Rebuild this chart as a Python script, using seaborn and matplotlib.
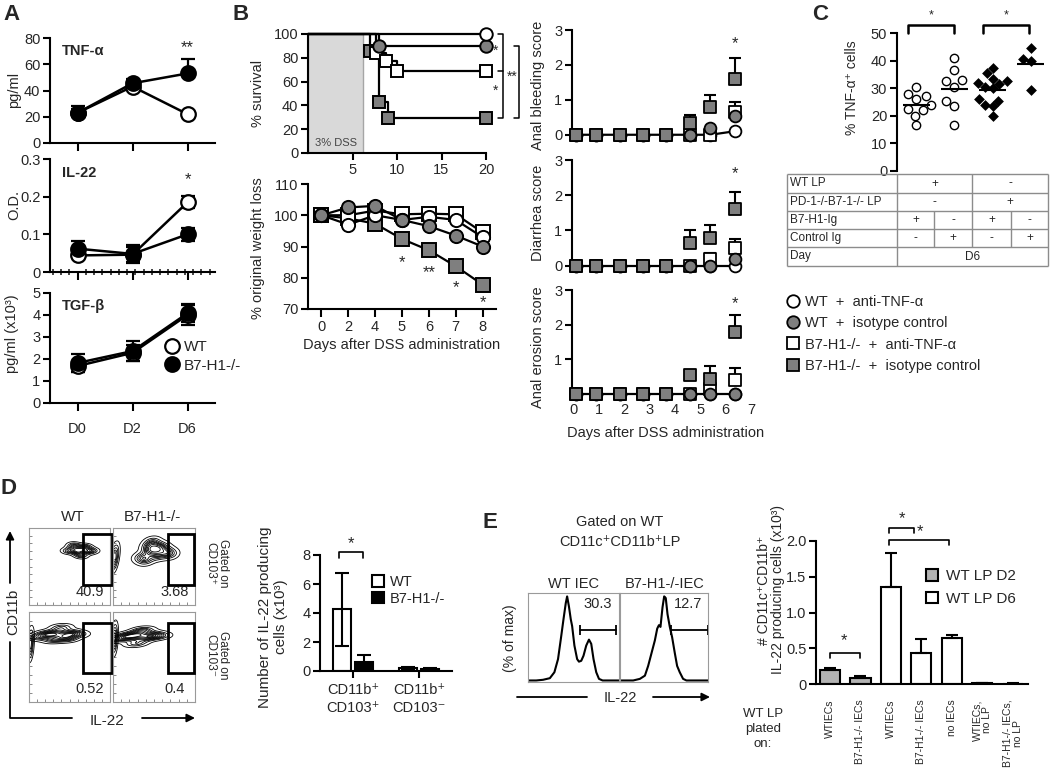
import matplotlib
matplotlib.use("Agg")
import matplotlib.pyplot as plt
import numpy as np
import pandas as pd
import seaborn as sns
from matplotlib.lines import Line2D
from matplotlib.patches import Patch, Rectangle
from matplotlib.ticker import MultipleLocator

W, H = 1050, 773
GRAY = "#7f7f7f"
BAR_GRAY = "#b3b3b3"

# ---- A: serum cytokines ----
a_days = ["D0", "D2", "D6"]
tnf_wt = [23, 43, 22]
tnf_wt_err = [3, 2, 2]
tnf_ko = [23, 45.5, 53]
tnf_ko_err = [5.5, 3, 11]
il22_wt = [0.044, 0.046, 0.185]
il22_wt_err = [0.006, 0.02, 0.016]
il22_ko = [0.062, 0.048, 0.100]
il22_ko_err = [0.019, 0.025, 0.018]
tgf_wt = [1.68, 2.28, 4.0]
tgf_wt_err = [0.25, 0.35, 0.45]
tgf_ko = [1.82, 2.36, 4.08]
tgf_ko_err = [0.4, 0.45, 0.42]

# ---- B: DSS colitis ----
b_groups = ["WT  +  anti-TNF-α", "WT  +  isotype control",
            "B7-H1-/-  +  anti-TNF-α", "B7-H1-/-  +  isotype control"]
dss_days = 6.2
surv_wt_anti_t = [0, 20]
surv_wt_anti = [100, 100]
surv_wt_iso_t = [0, 8, 20]
surv_wt_iso = [100, 90, 90]
surv_ko_anti_t = [0, 7.6, 8.8, 10, 20]
surv_ko_anti = [100, 84, 77, 69, 69]
surv_ko_iso_t = [0, 7, 8, 9, 20]
surv_ko_iso = [100, 86, 43, 29, 29]

wl_days = ["0", "2", "4", "5", "6", "7", "8"]
wl_wt_anti = [100, 97, 100, 98.5, 99.5, 98.5, 93]
wl_wt_iso = [100, 102.5, 103, 98.5, 96.5, 93.5, 90]
wl_ko_anti = [100, 100, 101.5, 100.3, 100.5, 100.3, 94.5]
wl_ko_iso = [100, 99, 97.3, 92.4, 88.8, 83.7, 77.8]
wl_sig = ["*", "**", "*", "*"]
wl_sig_pos = [3, 4, 5, 6]
wl_sig_y = [84.7, 81.5, 76.7, 72.1]

score_days = [0.1, 0.9, 1.85, 2.75, 3.65, 4.6, 5.4, 6.35]
bleed_wt_anti = [0, 0, 0, 0, 0, 0, 0, 0.1]
bleed_wt_iso = [0, 0, 0, 0, 0, 0, 0.2, 0.55]
bleed_ko_anti = [0, 0, 0, 0, 0, 0, 0, 0.65]
bleed_ko_iso = [0, 0, 0, 0, 0, 0.35, 0.8, 1.6]
bleed_wt_anti_err = [0, 0, 0, 0, 0, 0, 0, 0]
bleed_wt_iso_err = [0, 0, 0, 0, 0, 0, 0, 0.25]
bleed_ko_anti_err = [0, 0, 0, 0, 0, 0, 0, 0.3]
bleed_ko_iso_err = [0, 0, 0, 0, 0, 0.22, 0.35, 0.6]
diar_wt_anti = [0, 0, 0, 0, 0, 0, 0, 0]
diar_wt_iso = [0, 0, 0, 0, 0, 0, 0, 0.2]
diar_ko_anti = [0, 0, 0, 0, 0, 0, 0.2, 0.5]
diar_ko_iso = [0, 0, 0, 0, 0, 0.65, 0.8, 1.6]
diar_wt_anti_err = [0, 0, 0, 0, 0, 0, 0, 0]
diar_wt_iso_err = [0, 0, 0, 0, 0, 0, 0, 0]
diar_ko_anti_err = [0, 0, 0, 0, 0, 0, 0.15, 0.25]
diar_ko_iso_err = [0, 0, 0, 0, 0, 0.35, 0.35, 0.5]
eros_wt_anti = [0, 0, 0, 0, 0, 0, 0, 0]
eros_wt_iso = [0, 0, 0, 0, 0, 0, 0, 0]
eros_ko_anti = [0, 0, 0, 0, 0, 0, 0.15, 0.4]
eros_ko_iso = [0, 0, 0, 0, 0, 0.53, 0.42, 1.8]
eros_wt_anti_err = [0, 0, 0, 0, 0, 0, 0, 0]
eros_wt_iso_err = [0, 0, 0, 0, 0, 0, 0, 0]
eros_ko_anti_err = [0, 0, 0, 0, 0, 0, 0, 0.35]
eros_ko_iso_err = [0, 0, 0, 0, 0, 0.15, 0.38, 0.48]

# ---- C: % TNF-a+ cells ----
c_keys = ["WT/B7-H1-Ig", "WT/Control Ig", "KO/B7-H1-Ig", "KO/Control Ig"]
c_wt_b7h1 = [30.5, 28, 27, 26, 24, 22.5, 22, 20, 16.5]
c_wt_ctrl = [41, 36.5, 33, 32.5, 30.5, 25.5, 23.5, 16.5]
c_ko_b7h1 = [37.5, 35.5, 33.5, 32.5, 32, 31.5, 30.5, 30, 26, 25.5, 24, 23.5, 20]
c_ko_ctrl = [44.5, 40.5, 40, 29.5]
tbl_rows = ["WT LP", "PD-1-/-B7-1-/- LP", "B7-H1-Ig", "Control Ig", "Day"]
tbl_wt_lp = ["+", "-"]
tbl_pd1 = ["-", "+"]
tbl_b7h1 = ["+", "-", "+", "-"]
tbl_ctrl = ["-", "+", "-", "+"]
tbl_day = "D6"

# ---- D: IL-22 producing cells ----
flow_pct = ["40.9", "3.68", "0.52", "0.4"]
flow_main_x = [[48, 54, 60, 66, 72, 78, 56, 64, 70, 60],
               [34, 40, 46, 52, 58, 64, 70, 48, 55, 44],
               [12, 20, 28, 36, 44, 52, 60, 40, 48, 30],
               [8, 16, 24, 32, 40, 48, 56, 36, 28]]
flow_main_y = [[70, 74, 68, 73, 69, 71, 78, 64, 76, 71],
               [62, 58, 70, 72, 76, 70, 66, 82, 64, 76],
               [72, 76, 74, 78, 73, 77, 75, 83, 70, 69],
               [70, 74, 72, 76, 71, 75, 73, 80, 65]]
flow_edge_x = [None, [0, 4, 2, 1], [0, 3, 2, 1], [0, 3, 2, 1]]
flow_edge_y = [None, [64, 68, 56, 60], [64, 70, 58, 66], [70, 76, 64, 72]]
d_subsets = ["CD11b⁺\nCD103⁺", "CD11b⁺\nCD103⁻"]
d_genotypes = ["WT", "B7-H1-/-"]
d_wt = [4.25, 0.2]
d_wt_err = [2.5, 0.08]
d_ko = [0.6, 0.15]
d_ko_err = [0.5, 0.06]

# ---- E: IEC co-culture ----
hist_wt_x = [0, 9, 16.5, 24, 29, 33, 36.5, 39, 41.5, 43, 45, 47, 48.5, 51, 54,
             56, 58.5, 61, 64, 67, 69.5, 72, 75, 78, 82, 100]
hist_wt_y = [0.8, 0.8, 1.6, 3.5, 10.5, 26, 53, 73, 92, 100, 88, 73, 65, 42, 26,
             23, 24, 30, 42, 49, 44, 26, 10.5, 2.7, 0.8, 0.8]
hist_ko_x = [0, 15, 22.6, 28.3, 32, 35.8, 39.6, 42.3, 44.2, 46, 48.3, 50.2, 52,
             54, 56.6, 59.2, 62.3, 64.9, 67.9, 71.7, 75.5, 100]
hist_ko_y = [0.8, 0.8, 2.7, 6.5, 18, 33, 48, 62, 66, 64, 87, 100, 98, 79, 64,
             52, 33, 18, 10.5, 2.7, 0.8, 0.8]
e_gate_pct = ["30.3", "12.7"]
e_keys = ["D2 WT", "D2 KO", "D6 WT", "D6 KO", "D6 none", "WT no LP", "KO no LP"]
e_labels = ["WTIECs", "B7-H1-/- IECs", "WTIECs", "B7-H1-/- IECs", "no IECs",
            "WTIECs,\nno LP", "B7-H1-/- IECs,\nno LP"]
e_vals = [0.2, 0.085, 1.36, 0.43, 0.65, 0.008, 0.006]
e_errs = [0.02, 0.03, 0.47, 0.2, 0.03, 0.003, 0.002]
e_colors = [BAR_GRAY, BAR_GRAY, "white", "white", "white", "white", "white"]

sns.set_theme(style="ticks")
plt.rcParams["font.family"] = ["Liberation Sans", "DejaVu Sans"]

fig = plt.figure(figsize=(W / 100, H / 100), dpi=100)

b_markers = ["o", "o", "s", "s"]
b_faces = ["white", GRAY, "white", GRAY]


def box(x0, y0, x1, y1):
    ax = fig.add_axes([x0 / W, 1 - y1 / H, (x1 - x0) / W, (y1 - y0) / H])
    ax.set_facecolor("none")
    return ax


def prism(ax, lw=1.5, size=10.5):
    sns.despine(ax=ax)
    for side in ("left", "bottom"):
        ax.spines[side].set_linewidth(lw)
        ax.spines[side].set_color("black")
    ax.tick_params(width=lw, length=5, labelsize=size, pad=2, color="black")
    ax.set_xlabel("")
    ax.set_ylabel("")


def fig_anchor(x, y):
    return (x / W, 1 - y / H)


# ================= A =================
a_x = np.arange(len(a_days))
a_specs = [
    ((50, 38, 215, 143), tnf_wt, tnf_wt_err, tnf_ko, tnf_ko_err, False,
     (0, 80), [0, 20, 40, 60, 80], ["0", "20", "40", "60", "80"], "TNF-α"),
    ((50, 159, 215, 272), il22_wt, il22_wt_err, il22_ko, il22_ko_err, True,
     (0, 0.3), [0, 0.1, 0.2, 0.3], ["0", "0.1", "0.2", "0.3"], "IL-22"),
    ((50, 293, 215, 403), tgf_wt, tgf_wt_err, tgf_ko, tgf_ko_err, True,
     (0, 5), [0, 1, 2, 3, 4, 5], ["0", "1", "2", "3", "4", "5"], "TGF-β"),
]
a_axes = []
for rect, wt, wt_e, ko, ko_e, both, ylim, yt, ytl, name in a_specs:
    ax = box(*rect)
    for vals, errs, face in ((wt, wt_e, "white"), (ko, ko_e, "black")):
        low = errs if both else [0] * len(errs)
        ax.errorbar(a_x, vals, yerr=[low, errs], fmt="none", ecolor="black",
                    elinewidth=1.6, capsize=5, capthick=1.6, zorder=2)
        sns.lineplot(x=a_x, y=vals, ax=ax, color="black", lw=1.8, marker="o",
                     markersize=10.5, markerfacecolor=face, markeredgecolor="black",
                     markeredgewidth=1.6, zorder=3)
    prism(ax)
    ax.set_xlim(-0.5, 2.5)
    ax.set_ylim(*ylim)
    ax.set_yticks(yt, ytl)
    ax.set_xticks(a_x, a_days)
    ax.tick_params(axis="x", length=6)
    ax.text(0.07, 0.88, name, transform=ax.transAxes, fontsize=10.5,
            fontweight="bold", va="center")
    a_axes.append(ax)
a_axes[0].tick_params(axis="x", labelbottom=False)
a_axes[1].tick_params(axis="x", labelbottom=False)
a_axes[1].xaxis.set_minor_locator(MultipleLocator(0.15))
a_axes[1].tick_params(axis="x", which="minor", direction="inout", length=5, width=1.2)
a_axes[2].tick_params(axis="x", pad=8)
a_axes[0].text(2, 73, "**", ha="center", va="center", fontsize=12)
a_axes[1].text(2, 0.245, "*", ha="center", va="center", fontsize=12)
fig.legend(handles=[Line2D([], [], ls="none", marker="o", ms=10.5, mfc=f, mec="black", mew=1.6)
                    for f in ("white", "black")],
           labels=["WT", "B7-H1-/-"], loc="upper left", bbox_to_anchor=fig_anchor(164, 340),
           frameon=False, fontsize=11, handlelength=1.0, handletextpad=0.3,
           labelspacing=0.3, borderpad=0, borderaxespad=0)

# ================= B: survival =================
ax = box(308, 34, 486, 153)
ax.axvspan(0, dss_days, facecolor="#d9d9d9", edgecolor="#a6a6a6", lw=1, zorder=0)
ax.text(dss_days / 2, 8, "3% DSS", ha="center", va="center", fontsize=8, color="#444444")
surv_t = [surv_wt_anti_t, surv_wt_iso_t, surv_ko_anti_t, surv_ko_iso_t]
surv_v = [surv_wt_anti, surv_wt_iso, surv_ko_anti, surv_ko_iso]
for i in (3, 2, 1, 0):
    sns.lineplot(x=surv_t[i], y=surv_v[i], ax=ax, color="black", lw=1.6,
                 drawstyle="steps-post", estimator=None, sort=False, zorder=2, clip_on=False)
for i in (3, 2, 1, 0):
    ax.plot(surv_t[i][1:], surv_v[i][1:], ls="none", marker=b_markers[i], ms=9,
            mfc=b_faces[i], mec="black", mew=1.4, zorder=3, clip_on=False)
prism(ax)
ax.set_xlim(0, 20)
ax.set_ylim(0, 100)
ax.set_xticks([5, 10, 15, 20])
ax.set_yticks([0, 20, 40, 60, 80, 100])
kw = dict(color="black", lw=1.1, clip_on=False)
ax.plot([21.35, 21.9, 21.9, 21.35], [100, 100, 29, 29], **kw)
ax.plot([21.35, 21.9], [69, 69], **kw)
ax.plot([23.1, 23.7, 23.7, 23.1], [90, 90, 29, 29], **kw)
ax.text(21.1, 86, "*", ha="center", va="center", fontsize=10)
ax.text(21.1, 52, "*", ha="center", va="center", fontsize=10)
ax.text(22.9, 64, "**", ha="center", va="center", fontsize=10)

# ================= B: weight loss =================
ax = box(308, 184, 496, 309)
wl_x = np.arange(len(wl_days))
wl_series = [wl_wt_anti, wl_wt_iso, wl_ko_anti, wl_ko_iso]
for k, i in enumerate((3, 2, 0, 1)):
    sns.lineplot(x=wl_x, y=wl_series[i], ax=ax, color="black", lw=1.6,
                 marker=b_markers[i], markersize=9.5, markerfacecolor=b_faces[i],
                 markeredgecolor="black", markeredgewidth=1.4, zorder=2 + k)
prism(ax)
ax.set_xlim(-0.5, 6.5)
ax.set_ylim(70, 110)
ax.set_yticks([70, 80, 90, 100, 110])
ax.set_xticks(wl_x, wl_days)
ax.tick_params(axis="x", length=6)
for p, yv, s in zip(wl_sig_pos, wl_sig_y, wl_sig):
    ax.text(p, yv, s, ha="center", va="center", fontsize=12)
ax.set_xlabel("Days after DSS administration", fontsize=10.5, labelpad=3)

# ================= B: clinical scores =================
score_sets = [
    ((572, 30, 760, 140), [bleed_wt_anti, bleed_wt_iso, bleed_ko_anti, bleed_ko_iso],
     [bleed_wt_anti_err, bleed_wt_iso_err, bleed_ko_anti_err, bleed_ko_iso_err], [0, 1, 2, 3]),
    ((572, 160, 760, 271), [diar_wt_anti, diar_wt_iso, diar_ko_anti, diar_ko_iso],
     [diar_wt_anti_err, diar_wt_iso_err, diar_ko_anti_err, diar_ko_iso_err], [0, 1, 2, 3]),
    ((572, 290, 760, 399), [eros_wt_anti, eros_wt_iso, eros_ko_anti, eros_ko_iso],
     [eros_wt_anti_err, eros_wt_iso_err, eros_ko_anti_err, eros_ko_iso_err], [1, 2, 3]),
]
sx = np.asarray(score_days)
for n, (rect, series, errs, yt) in enumerate(score_sets):
    ax = box(*rect)
    sns.lineplot(x=score_days, y=series[0], ax=ax, color="black", lw=1.6, zorder=1)
    for k, i in enumerate((0, 2, 1, 3)):
        vals = np.asarray(series[i], dtype=float)
        e = np.asarray(errs[i], dtype=float)
        m = e > 0
        if m.any():
            ax.errorbar(sx[m], vals[m], yerr=[np.zeros(m.sum()), e[m]], fmt="none",
                        ecolor="black", elinewidth=1.5, capsize=4.5, capthick=1.5, zorder=2)
        sns.scatterplot(x=score_days, y=vals, ax=ax, marker=b_markers[i], s=72,
                        color=b_faces[i], edgecolor="black", linewidth=1.3,
                        zorder=3 + k, legend=False, clip_on=False)
    prism(ax)
    ax.spines["bottom"].set_visible(False)
    ax.set_xlim(-0.05, 7.35)
    ax.set_ylim(-0.15, 3)
    ax.set_yticks(yt)
    ax.set_xticks(range(8))
    ax.tick_params(axis="x", length=0, pad=3)
    if n < 2:
        ax.tick_params(axis="x", labelbottom=False)
    else:
        ax.set_xlabel("Days after DSS administration", fontsize=10.5, labelpad=6)
    ax.text(6.35, 2.6, "*", ha="center", va="center", fontsize=12)

# ================= C =================
ax = box(897, 33, 1050, 171)
c_values = [c_wt_b7h1, c_wt_ctrl, c_ko_b7h1, c_ko_ctrl]
dfc = pd.DataFrame({"group": np.repeat(c_keys, [len(v) for v in c_values]),
                    "value": np.concatenate(c_values)})
sns.swarmplot(data=dfc[dfc["group"].isin(c_keys[:2])], x="group", y="value", order=c_keys,
              color="white", edgecolor="black", linewidth=1, size=6, ax=ax)
sns.swarmplot(data=dfc[dfc["group"].isin(c_keys[2:])], x="group", y="value", order=c_keys,
              color="black", marker="D", size=5.5, ax=ax)
for i, vals in enumerate(c_values):
    ax.hlines(np.mean(vals), i - 0.35, i + 0.35, color="black", lw=1.5, zorder=5)
prism(ax)
ax.spines["bottom"].set_visible(False)
ax.set_xticks([])
ax.set_xlim(-0.5, 3.5)
ax.set_ylim(0, 50)
ax.set_yticks([0, 10, 20, 30, 40, 50])
for a, b in ((-0.2, 1.0), (1.75, 2.95)):
    ax.plot([a, a, b, b], [50, 53, 53, 50], color="black", lw=1.8, clip_on=False)
    ax.text((a + b) / 2, 56.5, "*", ha="center", va="center", fontsize=9)

# table
tax = box(785, 172, 1050, 268)
tax.set_xlim(785, 1050)
tax.set_ylim(268, 172)
tax.axis("off")
row_edges = [174, 193, 211, 229, 247, 266]
lc = "#8c8c8c"
for y in row_edges:
    tax.hlines(y, 787, 1048, color=lc, lw=1)
tax.vlines([787, 897, 1048], 174, 266, color=lc, lw=1)
tax.vlines(972, 174, 247, color=lc, lw=1)
tax.vlines([934, 1011], 211, 247, color=lc, lw=1)
for r, label in enumerate(tbl_rows):
    yc = (row_edges[r] + row_edges[r + 1]) / 2
    tax.text(790, yc, label, ha="left", va="center", fontsize=8.5)
half_c = [934.5, 1010]
quart_c = [915.5, 953, 991.5, 1029.5]
for r, vals, centers in ((0, tbl_wt_lp, half_c), (1, tbl_pd1, half_c),
                         (2, tbl_b7h1, quart_c), (3, tbl_ctrl, quart_c)):
    yc = (row_edges[r] + row_edges[r + 1]) / 2
    for xc, v in zip(centers, vals):
        tax.text(xc, yc, v, ha="center", va="center", fontsize=8.5)
tax.text(972.5, (row_edges[4] + row_edges[5]) / 2, tbl_day, ha="center", va="center", fontsize=8.5)

fig.legend(handles=[Line2D([], [], ls="none", marker=m, ms=9, mfc=f, mec="black", mew=1.3)
                    for m, f in zip(b_markers, b_faces)],
           labels=b_groups, loc="upper left", bbox_to_anchor=fig_anchor(786, 295),
           frameon=False, fontsize=10.5, handlelength=0.9, handletextpad=0.4,
           labelspacing=0.5, borderpad=0, borderaxespad=0)

# ================= D: flow contours =================
flow_rects = [(29, 528, 110, 605), (113, 528, 195, 605), (29, 612, 110, 702), (113, 612, 195, 702)]
flow_gates = [(67, 26, 35, 66), (67, 26, 32, 66), (67, 32, 35, 56), (67, 32, 32, 56)]
flow_txt_y = [17, 17, 14, 14]
for i, rect in enumerate(flow_rects):
    ax = box(*rect)
    sns.kdeplot(x=flow_main_x[i], y=flow_main_y[i], ax=ax, levels=10, thresh=0.05,
                color="black", linewidths=0.6, bw_adjust=0.9)
    if flow_edge_x[i] is not None:
        sns.kdeplot(x=flow_edge_x[i], y=flow_edge_y[i], ax=ax, levels=6, thresh=0.1,
                    color="black", linewidths=0.6, bw_adjust=2.2)
    ax.set_xlim(0, 100)
    ax.set_ylim(0, 100)
    ax.set_xlabel("")
    ax.set_ylabel("")
    ax.set_xticks(np.arange(0, 101, 10))
    ax.set_yticks(np.arange(0, 101, 10))
    ax.tick_params(direction="in", length=2, width=0.6, colors="#777777",
                   labelbottom=False, labelleft=False)
    for s in ax.spines.values():
        s.set_color("#999999")
        s.set_linewidth(0.8)
    gx, gy, gw, gh = flow_gates[i]
    ax.add_patch(Rectangle((gx, gy), gw, gh, fill=False, lw=2, ec="black", clip_on=False, zorder=5))
    ax.text(75, flow_txt_y[i], flow_pct[i], ha="center", va="center", fontsize=10.5)

# ================= D: bars =================
ax = box(320, 555, 452, 671)
dfd = pd.DataFrame({"subset": d_subsets * 2,
                    "genotype": ["WT"] * 2 + ["B7-H1-/-"] * 2,
                    "value": d_wt + d_ko})
sns.barplot(data=dfd, x="subset", y="value", hue="genotype", hue_order=d_genotypes,
            palette={"WT": "white", "B7-H1-/-": "black"}, edgecolor="black", linewidth=1.5,
            width=0.64, gap=0.15, errorbar=None, legend=False, ax=ax)
for vals, errs, off in ((d_wt, d_wt_err, -0.16), (d_ko, d_ko_err, 0.16)):
    ax.errorbar(np.arange(2) + off, vals, yerr=errs, fmt="none", ecolor="black",
                elinewidth=1.5, capsize=5, capthick=1.5, zorder=5)
prism(ax)
ax.set_xlim(-0.5, 1.5)
ax.set_ylim(0, 8)
ax.set_yticks([0, 2, 4, 6, 8])
ax.tick_params(axis="x", labelsize=10.5, pad=4)
for t in ax.get_xticklabels():
    t.set_linespacing(1.3)
ax.plot([-0.21, -0.21, 0.15, 0.15], [7.8, 8.2, 8.2, 7.8], color="black", lw=1.2, clip_on=False)
ax.text(-0.03, 8.75, "*", ha="center", va="center", fontsize=12)
fig.legend(handles=[Patch(facecolor=c, edgecolor="black", lw=1.5) for c in ("white", "black")],
           labels=d_genotypes, loc="upper left", bbox_to_anchor=fig_anchor(372, 575),
           frameon=False, fontsize=10.5, handlelength=0.8, handleheight=0.8,
           handletextpad=0.4, labelspacing=0.2, borderpad=0, borderaxespad=0)

# ================= E: histograms =================
hist_rects = [(528, 593, 619, 682), (620, 593, 708, 682)]
hist_xs = [hist_wt_x, hist_ko_x]
hist_ys = [hist_wt_y, hist_ko_y]
gate_span = [(57, 97), (58, 100)]
for i, rect in enumerate(hist_rects):
    ax = box(*rect)
    sns.lineplot(x=hist_xs[i], y=hist_ys[i], ax=ax, color="black", lw=1.5,
                 estimator=None, sort=False)
    ax.set_xlim(0, 100)
    ax.set_ylim(-1, 104)
    ax.set_xticks([])
    ax.set_yticks([])
    ax.set_xlabel("")
    ax.set_ylabel("")
    for s in ax.spines.values():
        s.set_color("#9a9a9a")
        s.set_linewidth(0.8)
    a, b = gate_span[i]
    ax.plot([a, b], [60, 60], color="black", lw=1.3, clip_on=False)
    ax.plot([a, b], [60, 60], ls="none", marker="|", ms=7, mew=1.3, color="black", clip_on=False)
    ax.text(77, 91, e_gate_pct[i], ha="center", va="center", fontsize=10.5)

# ================= E: bars =================
ax = box(816, 541, 1028, 684)
dfe = pd.DataFrame({"key": e_keys, "value": e_vals})
sns.barplot(data=dfe, x="key", y="value", hue="key", palette=dict(zip(e_keys, e_colors)),
            legend=False, width=0.66, edgecolor="black", linewidth=1.5, errorbar=None, ax=ax)
ax.errorbar(np.arange(len(e_keys)), e_vals, yerr=[np.zeros(len(e_errs)), e_errs], fmt="none",
            ecolor="black", elinewidth=1.5, capsize=4.5, capthick=1.5, zorder=5)
prism(ax)
ax.set_xlim(-0.46, 6.5)
ax.set_ylim(0, 2)
ax.set_yticks([0, 0.5, 1.0, 1.5, 2.0], ["0", "0.5", "1.0", "1.5", "2.0"])
ax.set_xticks(range(len(e_labels)))
ax.set_xticklabels(e_labels, rotation=90, fontsize=7.5, ha="center", va="top", linespacing=0.95)
ax.tick_params(axis="x", length=0, pad=11)
for a, b, yb in ((0, 1, 0.44), (1.95, 2.75, 2.18), (1.95, 3.9, 2.01)):
    ax.plot([a, a, b, b], [yb - 0.07, yb, yb, yb - 0.07], color="black", lw=1.2, clip_on=False)
ax.text(0.45, 0.6, "*", ha="center", va="center", fontsize=12)
ax.text(2.35, 2.31, "*", ha="center", va="center", fontsize=12)
ax.text(2.95, 2.13, "*", ha="center", va="center", fontsize=12)
fig.legend(handles=[Patch(facecolor=c, edgecolor="black", lw=1.5) for c in (BAR_GRAY, "white")],
           labels=["WT LP D2", "WT LP D6"], loc="upper left", bbox_to_anchor=fig_anchor(926, 569),
           frameon=False, fontsize=11, handlelength=0.8, handleheight=0.8,
           handletextpad=0.5, labelspacing=0.55, borderpad=0, borderaxespad=0)

# ================= overlay text =================
ov = fig.add_axes([0, 0, 1, 1], zorder=20)
ov.set_xlim(0, W)
ov.set_ylim(H, 0)
ov.axis("off")
for x, y, s in ((3, 4, "A"), (232, 4, "B"), (812, 4, "C"), (1, 478, "D"), (482, 512, "E")):
    ov.text(x, y, s, fontsize=16, fontweight="bold", ha="left", va="top")
rot = dict(rotation=90, ha="center", va="center")
ov.text(14, 90, "pg/ml", fontsize=10.5, **rot)
ov.text(14, 205, "O.D.", fontsize=10.5, **rot)
ov.text(12, 334, "pg/ml (x10³)", fontsize=10.5, **rot)
ov.text(258, 93, "% survival", fontsize=10.5, **rot)
ov.text(258, 248, "% original weight loss", fontsize=10.5, **rot)
ov.text(538, 85, "Anal bleeding score", fontsize=10.5, **rot)
ov.text(538, 213, "Diarrhea score", fontsize=10.5, **rot)
ov.text(538, 347, "Anal erosion score", fontsize=10.5, **rot)
ov.text(852, 88, "% TNF-α⁺ cells", fontsize=10, **rot)
ov.text(273, 617, "Number of IL-22 producing\ncells (x10³)", fontsize=11, linespacing=1.2, **rot)
ov.text(771, 590, "# CD11c⁺CD11b⁺\nIL-22 producing cells (x10³)", fontsize=10, linespacing=1.05, **rot)
ov.text(510, 638, "(% of max)", fontsize=10, **rot)

# D flow annotations
ov.text(73, 517, "WT", ha="center", va="center", fontsize=11)
ov.text(152, 517, "B7-H1-/-", ha="center", va="center", fontsize=11)
ov.text(217, 563, "Gated on\nCD103⁺", rotation=-90, ha="center", va="center", fontsize=8.5, linespacing=1.1)
ov.text(217, 655, "Gated on\nCD103⁻", rotation=-90, ha="center", va="center", fontsize=8.5, linespacing=1.1)
ov.text(13, 612, "CD11b", fontsize=11, **rot)
ov.text(107, 721, "IL-22", ha="center", va="center", fontsize=11)
arr = dict(arrowstyle="-|>", color="black", lw=1.3, mutation_scale=12, shrinkA=0, shrinkB=0)
ov.plot([10, 10, 72], [642, 718, 718], color="black", lw=1.3)
ov.annotate("", xy=(10, 531), xytext=(10, 583), arrowprops=arr)
ov.annotate("", xy=(195, 718), xytext=(142, 718), arrowprops=arr)

# E annotations
ov.text(620, 522, "Gated on WT", ha="center", va="center", fontsize=10.5)
ov.text(620, 542, "CD11c⁺CD11b⁺LP", ha="center", va="center", fontsize=10.5)
ov.text(573, 584, "WT IEC", ha="center", va="center", fontsize=10.5)
ov.text(665, 584, "B7-H1-/-IEC", ha="center", va="center", fontsize=10.5)
ov.text(620, 698, "IL-22", ha="center", va="center", fontsize=10.5)
ov.plot([517, 587], [697, 697], color="black", lw=1.3)
ov.annotate("", xy=(710, 697), xytext=(653, 697), arrowprops=arr)
ov.text(763, 729, "WT LP\nplated\non:", ha="center", va="center", fontsize=9.5, linespacing=1.3)

fig.savefig("out.png", dpi=100)
